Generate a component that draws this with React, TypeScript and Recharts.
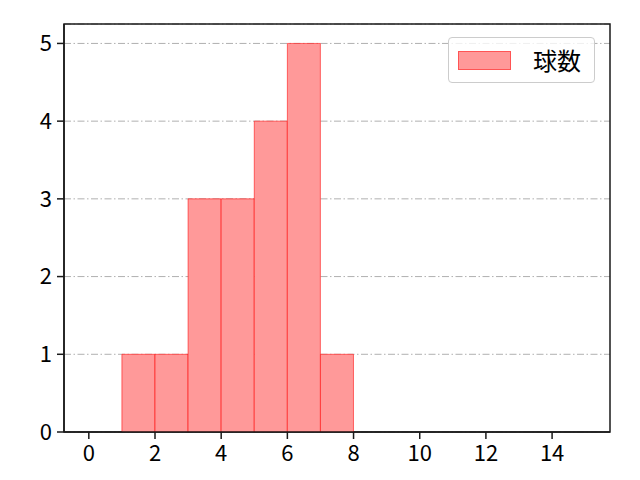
import React from "react";
import {
  ComposedChart,
  Bar,
  XAxis,
  YAxis,
  CartesianGrid,
  ReferenceArea,
} from "recharts";

const FONT = "'Noto Sans CJK JP', 'Noto Sans', sans-serif";
const INK = "#1a1a1a";

// histogram bins (width 1) and counts
const binStarts = [1, 2, 3, 4, 5, 6, 7];
const binWidth = 1;
const counts = [1, 1, 3, 3, 4, 5, 1];
const seriesName = "球数";

const xDomain = [-0.75, 15.75];
const yDomain = [0, 5.25];
const xTicks = [0, 2, 4, 6, 8, 10, 12, 14];
const yTicks = [0, 1, 2, 3, 4, 5];

const data = binStarts.map((start, i) => ({
  x: start + binWidth / 2,
  count: counts[i],
}));

function LegendBox() {
  return (
    <div
      style={{
        position: "absolute",
        left: 448,
        top: 37,
        width: 147,
        height: 46,
        boxSizing: "border-box",
        border: "1px solid #cccccc",
        borderRadius: 4,
        background: "rgba(255,255,255,0.8)",
        display: "flex",
        alignItems: "center",
        fontFamily: FONT,
        fontSize: 24,
        color: "#000",
      }}
    >
      <span
        style={{
          display: "inline-block",
          width: 53,
          height: 19,
          marginLeft: 9,
          background: "#ff9999",
          border: "1px solid rgba(255,0,0,0.45)",
          boxSizing: "border-box",
        }}
      />
      <span style={{ marginLeft: 22, lineHeight: 1 }}>{seriesName}</span>
    </div>
  );
}

export default function App() {
  return (
    <div
      style={{
        position: "absolute",
        left: 0,
        top: 0,
        width: 640,
        height: 480,
        background: "#fff",
      }}
    >
      <ComposedChart
        width={640}
        height={480}
        data={data}
        margin={{ top: 24, right: 30, bottom: 0, left: 0 }}
        barCategoryGap={0}
        barGap={0}
      >
        <CartesianGrid
          vertical={false}
          stroke="#b0b0b0"
          strokeWidth={1}
          strokeDasharray="7 2.5 1.5 2.5"
        />
        <XAxis
          dataKey="x"
          type="number"
          domain={xDomain}
          ticks={xTicks}
          allowDataOverflow
          height={48}
          tickSize={7}
          tickMargin={6}
          axisLine={{ stroke: INK, strokeWidth: 1.5 }}
          tickLine={{ stroke: INK, strokeWidth: 1.5 }}
          tick={{ fill: "#000", fontSize: 22, fontFamily: FONT }}
        />
        <YAxis
          type="number"
          domain={yDomain}
          ticks={yTicks}
          allowDataOverflow
          width={64}
          tickSize={7}
          tickMargin={5}
          axisLine={{ stroke: INK, strokeWidth: 1.5 }}
          tickLine={{ stroke: INK, strokeWidth: 1.5 }}
          tick={{ fill: "#000", fontSize: 22, fontFamily: FONT }}
        />
        <Bar
          dataKey="count"
          name={seriesName}
          fill="#ff9999"
          stroke="rgba(255,0,0,0.55)"
          strokeWidth={1}
          isAnimationActive={false}
        />
        {/* plot frame */}
        <ReferenceArea
          x1={xDomain[0]}
          x2={xDomain[1]}
          y1={yDomain[0]}
          y2={yDomain[1]}
          fill="none"
          fillOpacity={0}
          stroke={INK}
          strokeOpacity={1}
          strokeWidth={1.5}
          ifOverflow="visible"
        />
      </ComposedChart>
      <LegendBox />
    </div>
  );
}
